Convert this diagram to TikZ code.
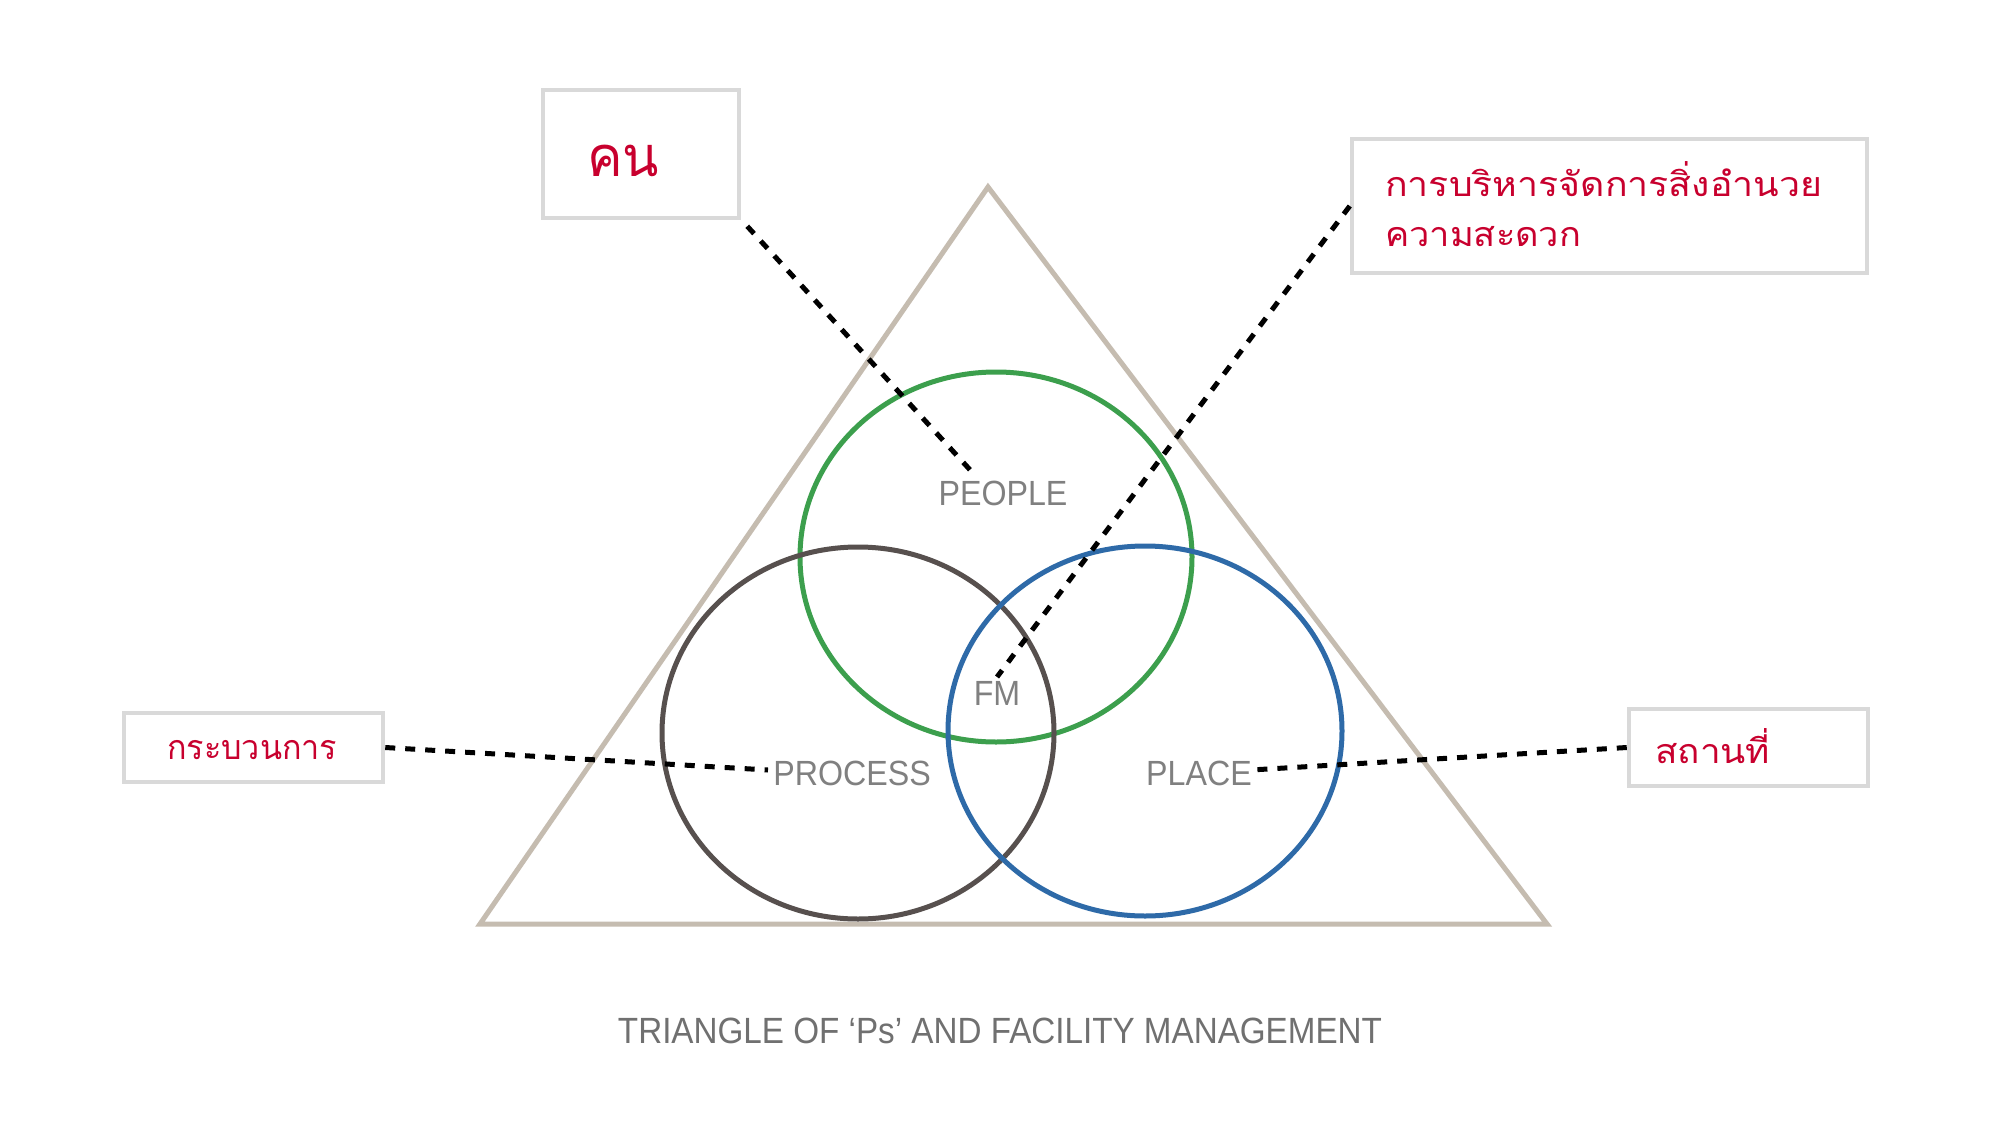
\documentclass[tikz,border=0pt]{standalone}
\usepackage{fontspec}
\usepackage{graphicx}
\newfontfamily\thaifont[Script=Thai]{Loma}
\newfontfamily\lblfont[FakeStretch=0.92]{Liberation Sans}
\newfontfamily\capfont[FakeStretch=0.91]{Liberation Sans}
\newcommand{\fitw}[2]{\resizebox{#1}{\height}{#2}}
\definecolor{triC}{HTML}{C5BCB0}
\definecolor{greenC}{HTML}{3C9F4D}
\definecolor{procC}{HTML}{57504E}
\definecolor{blueC}{HTML}{2E6AA8}
\definecolor{lblC}{HTML}{808080}
\definecolor{capC}{HTML}{707070}
\definecolor{thaiC}{HTML}{C8002E}
\definecolor{boxC}{HTML}{D9D9D9}
\begin{document}
\begin{tikzpicture}[x=1pt,y=-1pt,
  ring/.style={line width=5pt},
  lbl/.style={inner sep=0pt, anchor=base, text=lblC, font=\lblfont\fontsize{35}{40}\selectfont},
  captxt/.style={inner sep=0pt, anchor=base, text=capC, font=\capfont\fontsize{36.5}{42}\selectfont},
  tbox/.style={draw=boxC, line width=4.5pt, fill=white, inner sep=0pt},
  thaitxt/.style={inner sep=0pt, anchor=base west, text=thaiC, font=\thaifont\fontsize{34}{40}\selectfont},
  leader/.style={draw=black, line width=5pt, dash pattern=on 10pt off 10pt}]
\useasboundingbox[fill=white] (0,0) rectangle (1991,1132);
% triangle
\draw[draw=triC, line width=5pt, line join=miter] (988,187) -- (480,924) -- (1547,924) -- cycle;
% circles
\draw[ring, draw=greenC] (996,557) ellipse [x radius=196, y radius=185];
\draw[ring, draw=procC] (858,733) ellipse [x radius=196, y radius=186];
\draw[ring, draw=blueC] (1145,731) ellipse [x radius=197, y radius=185];
% labels
\node[lbl] (people) at (1003,505) {PEOPLE};
\node[lbl] (fm) at (997,705) {FM};
\node[lbl] (process) at (852,785) {PROCESS};
\node[lbl] (place) at (1199,785) {PLACE};
\node[captxt] (caption) at (1000,1043) {TRIANGLE OF ‘Ps’ AND FACILITY MANAGEMENT};
% boxes
\node[tbox, minimum width=196pt, minimum height=128pt] (kon) at (641,154) {};
\node[tbox, minimum width=515pt, minimum height=134pt] (fac) at (1609.5,206) {};
\node[tbox, minimum width=259pt, minimum height=69pt] (procbox) at (253.5,747.5) {};
\node[tbox, minimum width=239pt, minimum height=77pt] (placebox) at (1748.5,747.5) {};
% thai texts
\node[thaitxt, font=\thaifont\fontsize{56}{60}\selectfont] (kontxt) at (587,176) {\fitw{72pt}{คน}};
\node[thaitxt] (factxt1) at (1385,196) {\fitw{437pt}{การบริหารจัดการสิ่งอำนวย}};
\node[thaitxt] (factxt2) at (1385,246) {\fitw{196pt}{ความสะดวก}};
\node[thaitxt] (proctxt) at (167,759) {\fitw{170pt}{กระบวนการ}};
\node[thaitxt] (placetxt) at (1655,763) {\fitw{115pt}{สถานที่}};
% leaders
\coordinate (peopleEnd) at (972,472);
\coordinate (fmEnd) at (997,677);
\coordinate (procEnd) at (768,770);
\coordinate (placeEnd) at (1251,770);
\draw[leader] ([shift={(6,6)}]kon.south east) -- (peopleEnd);
\draw[leader] (fac.west) -- (fmEnd);
\draw[leader] (procbox.east) -- (procEnd);
\draw[leader] (placebox.west) -- (placeEnd);
\end{tikzpicture}
\end{document}
